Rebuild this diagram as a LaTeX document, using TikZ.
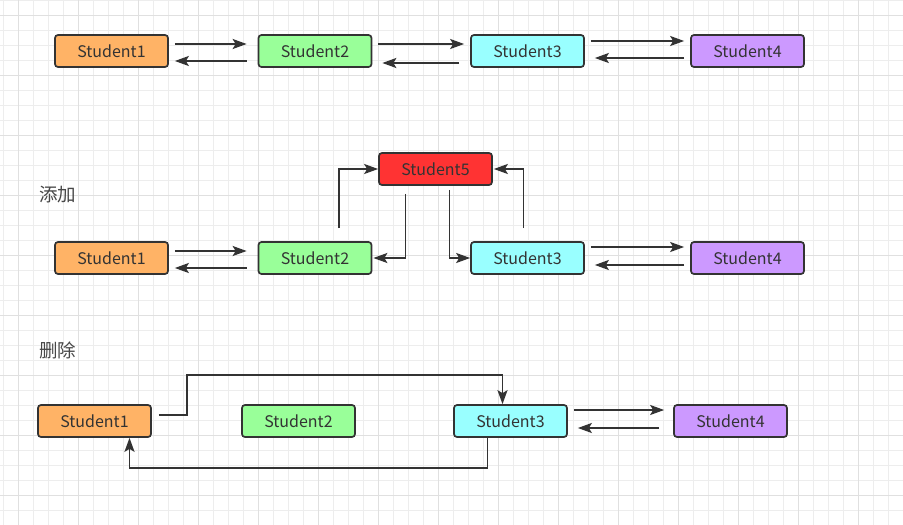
\documentclass[tikz,border=0pt]{standalone}
\usepackage{fontspec}
\setmainfont{Noto Sans CJK SC}
\usetikzlibrary{arrows.meta}

\definecolor{ink}{HTML}{333333}
\definecolor{orangebox}{HTML}{FFB366}
\definecolor{greenbox}{HTML}{99FF99}
\definecolor{cyanbox}{HTML}{99FFFF}
\definecolor{purplebox}{HTML}{CC99FF}
\definecolor{redbox}{HTML}{FF3333}

\tikzset{
  student/.style={draw=ink, line width=1.7pt, rounded corners=3pt,
    minimum width=113pt, minimum height=32pt, inner sep=0pt,
    text=ink, font=\fontsize{16}{18}\selectfont},
  link/.style={draw=ink, line width=1.8pt,
    -{Stealth[length=14pt,width=10pt,inset=3pt]}},
  minorgrid/.style={draw=black!7, line width=1pt},
  majorgrid/.style={draw=black!12, line width=1pt},
  caption/.style={anchor=west, inner sep=0pt, text=ink!90, font=\fontsize{18.5}{20}\selectfont}
}

\begin{document}
\begin{tikzpicture}[x=1pt, y=-1pt]
    % Background and grid
    \fill[white] (0,0) rectangle (903,525);
    \useasboundingbox (0,0) rectangle (903,525);
    \foreach \x in {3,18,...,903} \draw[minorgrid] (\x,0) -- (\x,525);
    \foreach \y in {0,15,...,525} \draw[minorgrid] (0,\y) -- (903,\y);
    \foreach \x in {18,78,...,903} \draw[majorgrid] (\x,0) -- (\x,525);
    \foreach \y in {15,75,...,525} \draw[majorgrid] (0,\y) -- (903,\y);

    % Row 1: the plain list
    \node[student, fill=orangebox] (s1a) at (111.5,51) {Student1};
    \node[student, fill=greenbox]  (s2a) at (315,51)   {Student2};
    \node[student, fill=cyanbox]   (s3a) at (527.5,51) {Student3};
    \node[student, fill=purplebox] (s4a) at (747.5,51) {Student4};

    \draw[link] ([xshift=6pt,yshift=7pt]s1a.east) -- ([xshift=-11pt,yshift=7pt]s2a.west);
    \draw[link] ([xshift=-11pt,yshift=-10pt]s2a.west) -- ([xshift=6pt,yshift=-10pt]s1a.east);
    \draw[link] ([xshift=6pt,yshift=7pt]s2a.east) -- ([xshift=-6pt,yshift=7pt]s3a.west);
    \draw[link] ([xshift=-11pt,yshift=-12pt]s3a.west) -- ([xshift=10pt,yshift=-12pt]s2a.east);
    \draw[link] ([xshift=6pt,yshift=10pt]s3a.east) -- ([xshift=-6pt,yshift=10pt]s4a.west);
    \draw[link] ([xshift=-6pt,yshift=-7pt]s4a.west) -- ([xshift=10pt,yshift=-7pt]s3a.east);

    % Row 2: insert Student5
    \node[caption] (add) at (39,195) {添加};
    \node[student, fill=orangebox] (s1b) at (111.5,258) {Student1};
    \node[student, fill=greenbox]  (s2b) at (315,258)   {Student2};
    \node[student, fill=cyanbox]   (s3b) at (527.5,258) {Student3};
    \node[student, fill=purplebox] (s4b) at (747.5,258) {Student4};
    \node[student, fill=redbox]    (s5)  at (435.5,169) {Student5};

    \draw[link] ([xshift=6pt,yshift=7pt]s1b.east) -- ([xshift=-11pt,yshift=7pt]s2b.west);
    \draw[link] ([xshift=-11pt,yshift=-10pt]s2b.west) -- ([xshift=6pt,yshift=-10pt]s1b.east);
    \draw[link] ([xshift=6pt,yshift=11pt]s3b.east) -- ([xshift=-6pt,yshift=11pt]s4b.west);
    \draw[link] ([xshift=-6pt,yshift=-7pt]s4b.west) -- ([xshift=10pt,yshift=-7pt]s3b.east);

    \draw[link] ([xshift=24pt,yshift=13pt]s2b.north) |- (s5.west);
    \draw[link] ([xshift=-30pt,yshift=-8pt]s5.south) |- ([xshift=1pt]s2b.east);
    \draw[link] ([xshift=14pt,yshift=-4pt]s5.south) |- (s3b.west);
    \draw[link] ([xshift=-4pt,yshift=13pt]s3b.north) |- ([xshift=1pt]s5.east);

    % Row 3: remove Student2
    \node[caption] (del) at (39,350) {删除};
    \node[student, fill=orangebox] (s1c) at (94.5,421)  {Student1};
    \node[student, fill=greenbox]  (s2c) at (298.5,421) {Student2};
    \node[student, fill=cyanbox]   (s3c) at (510.5,421) {Student3};
    \node[student, fill=purplebox] (s4c) at (730.5,421) {Student4};

    \coordinate (bend) at (187,375);
    \draw[link] ([xshift=7pt,yshift=6pt]s1c.east) -| (bend) -| ([xshift=-8pt]s3c.north);
    \draw[link] ([xshift=-23pt]s3c.south) -- ++(0,30) -| ([xshift=35pt]s1c.south);
    \draw[link] ([xshift=6pt,yshift=11pt]s3c.east) -- ([xshift=-9pt,yshift=11pt]s4c.west);
    \draw[link] ([xshift=-14pt,yshift=-7pt]s4c.west) -- ([xshift=10pt,yshift=-7pt]s3c.east);

\end{tikzpicture}
\end{document}
